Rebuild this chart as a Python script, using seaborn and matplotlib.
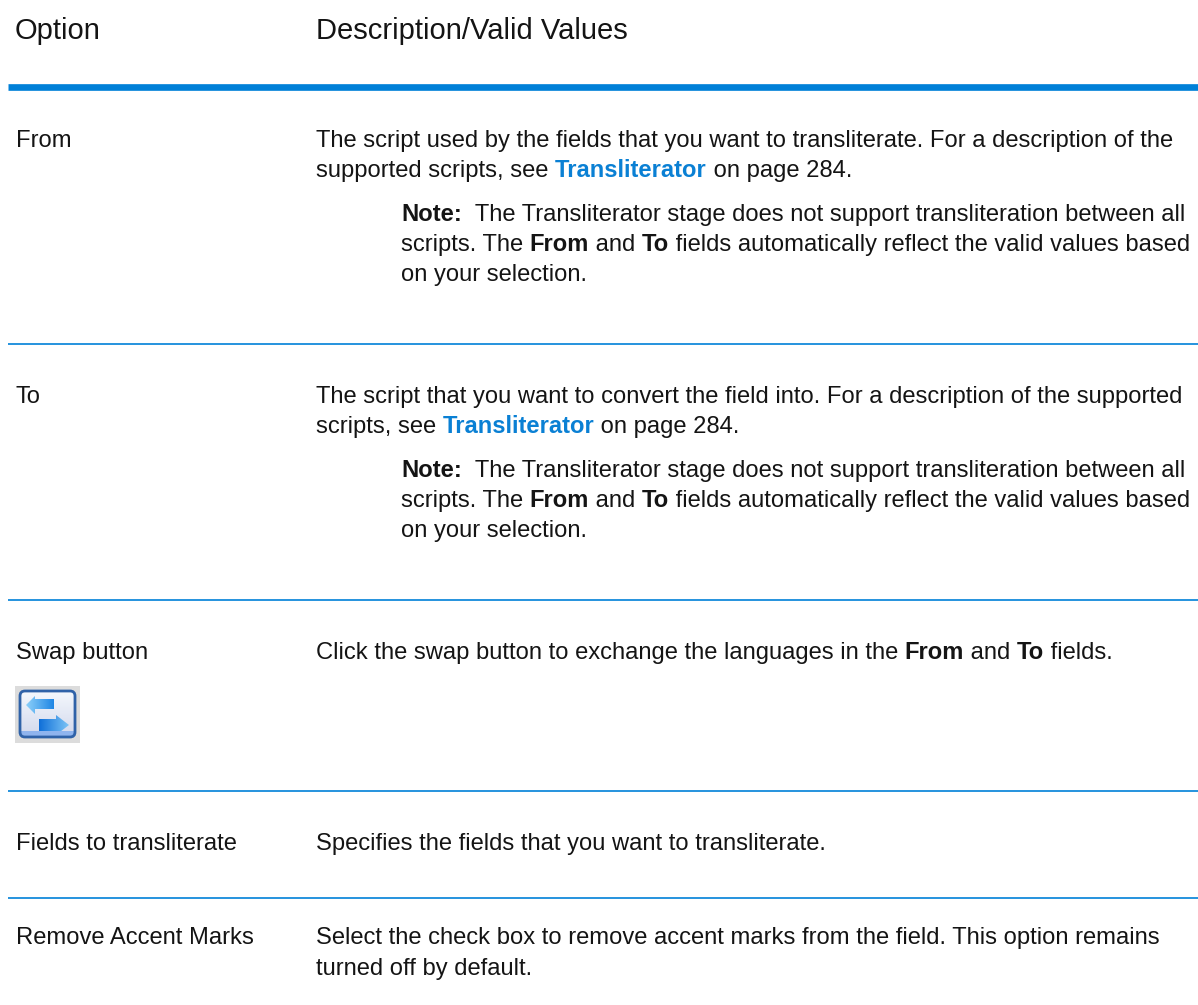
import matplotlib
matplotlib.use("Agg")
import matplotlib.pyplot as plt
from matplotlib.patches import FancyBboxPatch, Polygon, Rectangle
import numpy as np
import seaborn as sns

sns.set_theme(style="white")
plt.rcParams['font.family'] = ['Liberation Sans', 'DejaVu Sans']

W, H = 1198, 1005
BLUE = "#0080d8"
LINK = "#0a80d4"
TEXT = "#141414"
BODY = 17.15

headers = ["Option", "Description/Valid Values"]
header_x = [15, 316]
header_y = 39

thick_rule = 87
thin_rules = [343.5, 600, 790.5, 898]

# option column: label, baseline
options = ["From", "To", "Swap button", "Fields to transliterate", "Remove Accent Marks"]
option_y = [146.7, 402.7, 659, 850, 944]

# "b" bold, "l" bold link, "" plain
note_lines = [
    [("Note:", "b"), ("  The Transliterator stage does not support transliteration between all", "")],
    [("scripts. The ", ""), ("From", "b"), (" and ", ""), ("To", "b"), (" fields automatically reflect the valid values based", "")],
    [("on your selection.", "")],
]
desc_lines = [
    (316, 146.7, [("The script used by the fields that you want to transliterate. For a description of the", "")]),
    (316, 176.7, [("supported scripts, see ", ""), ("Transliterator", "l"), (" on page 284.", "")]),
    (401, 221, note_lines[0]),
    (401, 251, note_lines[1]),
    (401, 281, note_lines[2]),
    (316, 402.7, [("The script that you want to convert the field into. For a description of the supported", "")]),
    (316, 432.7, [("scripts, see ", ""), ("Transliterator", "l"), (" on page 284.", "")]),
    (401, 476.7, note_lines[0]),
    (401, 506.7, note_lines[1]),
    (401, 536.7, note_lines[2]),
    (316, 659, [("Click the swap button to exchange the languages in the ", ""), ("From", "b"), (" and ", ""), ("To", "b"), (" fields.", "")]),
    (316, 850, [("Specifies the fields that you want to transliterate.", "")]),
    (316, 944, [("Select the check box to remove accent marks from the field. This option remains", "")]),
    (316, 975, [("turned off by default.", "")]),
]

fig = plt.figure(figsize=(W / 100, H / 100), dpi=100)
ax = fig.add_axes([0, 0, 1, 1])
ax.set_xticks([])
ax.set_yticks([])
sns.despine(ax=ax, left=True, bottom=True)

ax.hlines(thick_rule, 8, W, color=BLUE, lw=4.8)
ax.hlines(thin_rules, 8, W, color=BLUE, lw=1.2)

for x, label in zip(header_x, headers):
    ax.text(x, header_y, label, fontsize=21, color=TEXT, va="baseline")
for y, label in zip(option_y, options):
    ax.text(16, y, label, fontsize=BODY, color=TEXT, va="baseline")

ax.set_xlim(0, W)
ax.set_ylim(H, 0)

# mixed weight lines, each run starts where the last one ended
rend = fig.canvas.get_renderer()
for x, y, runs in desc_lines:
    px = x
    for txt, kind in runs:
        t = ax.text(px, y, txt, fontsize=BODY, va="baseline",
                    color=LINK if kind == "l" else TEXT,
                    fontweight="bold" if kind else "normal")
        px += t.get_window_extent(rend).width


def gradient(c0, c1, extent, clip, horizontal=False):
    c0, c1 = np.array(matplotlib.colors.to_rgb(c0)), np.array(matplotlib.colors.to_rgb(c1))
    f = np.linspace(0, 1, 64)[:, None]
    img = (c0 + (c1 - c0) * f)[:, None, :]
    if horizontal:
        img = img.transpose(1, 0, 2)
    im = ax.imshow(img, extent=extent, aspect="auto", origin="upper", zorder=3)
    im.set_clip_path(clip)


# swap icon
ax.add_patch(Rectangle((15, 686), 65, 57, color="#dcdcdc", lw=0, zorder=2))
frame = FancyBboxPatch((20, 691), 55, 46, boxstyle="round,pad=0,rounding_size=5",
                       fc="none", ec="#2f62a8", lw=2, zorder=5)
ax.add_patch(frame)
gradient("#f4f8fd", "#d2d8ec", (20, 75, 737, 691), frame)
ax.add_patch(Rectangle((21, 731), 53, 5, color="#8fb4ee", lw=0, zorder=4))
left_arrow = Polygon([(26, 705), (35, 696), (35, 699), (54, 699), (54, 709), (35, 709), (35, 714)],
                     transform=ax.transData, fc="none", ec="none", zorder=4)
right_arrow = Polygon([(69, 725), (56, 715), (56, 719), (39, 719), (39, 731), (56, 731), (56, 735)],
                      transform=ax.transData, fc="none", ec="none", zorder=4)
ax.add_patch(left_arrow)
ax.add_patch(right_arrow)
gradient("#8cd0fa", "#1f86e4", (26, 54, 714, 696), left_arrow, horizontal=True)
gradient("#0f6fd8", "#7cc4f6", (39, 69, 735, 715), right_arrow, horizontal=True)

ax.set_xlim(0, W)
ax.set_ylim(H, 0)

fig.savefig("out.png", dpi=100)
